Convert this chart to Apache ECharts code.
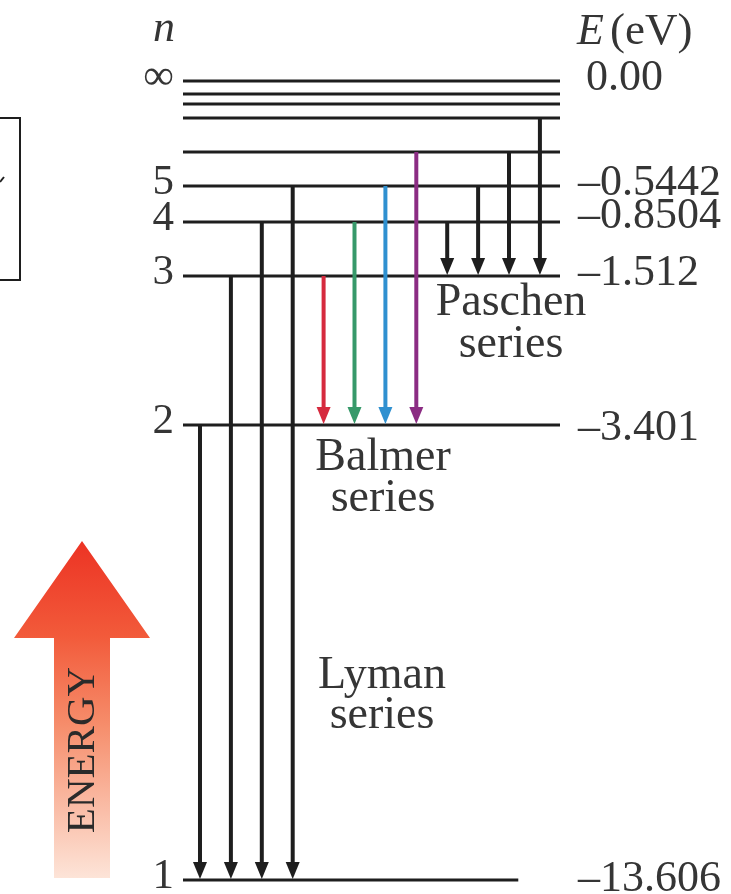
<!DOCTYPE html>
<html>
<head>
<meta charset="utf-8">
<script src="https://cdn.jsdelivr.net/npm/echarts@6/dist/echarts.min.js"></script>
<style>
  html, body { margin: 0; padding: 0; background: #fff; }
  #chart { width: 731px; height: 894px; }
</style>
</head>
<body>
<div id="chart"></div>
<script>
// energy levels n = 1 .. 9 and infinity
const levelTags = ['1', '2', '3', '4', '5', '', '', '', '', '∞'];
const levelEnergy = ['–13.606', '–3.401', '–1.512', '–0.8504', '–0.5442', '', '', '', '', '0.00'];
// drawn height of each level above n = 1 (the diagram is not to scale)
const levelHeight = [0, 455, 604, 658, 694, 728, 762, 776, 786, 799];

// transitions: upper level n for each arrow, lower level is fixed per series
const lymanFrom = [2, 3, 4, 5];
const balmerFrom = [3, 4, 5, 6];
const paschenFrom = [4, 5, 6, 7];
const seriesTo = [1, 2, 3];
const seriesLabels = ['Lyman\nseries', 'Balmer\nseries', 'Paschen\nseries'];
const balmerColors = ['#d62a3e', '#37996a', '#2f90d0', '#8b2c83'];

const SERIF = '"Liberation Serif", "DejaVu Serif", serif';
const TEXT = '#353535';
const INK = '#1e1e1e';

// one slot on the x axis per arrow, in order Lyman, Balmer, Paschen
const arrowData = [];
[lymanFrom, balmerFrom, paschenFrom].forEach((from, s) => {
  from.forEach((n, k) => {
    const item = { value: [arrowData.length, levelHeight[n - 1], levelHeight[seriesTo[s] - 1]] };
    item.itemStyle = { color: s === 1 ? balmerColors[k] : INK };
    arrowData.push(item);
  });
});

function renderLevel(params, api) {
  const i = api.value(0);
  const h = api.value(1);
  const p0 = api.coord([-0.55, h]);
  const p1 = api.coord([i === 0 ? 10.3 : 11.65, h]);
  const children = [{
    type: 'line',
    shape: { x1: p0[0], y1: p0[1], x2: p1[0], y2: p1[1] },
    style: { stroke: INK, lineWidth: 3 }
  }];
  if (levelTags[i]) {
    children.push({
      type: 'text',
      style: {
        text: levelTags[i], x: p0[0] - 9, y: p0[1] - 3,
        align: 'right', verticalAlign: 'middle',
        font: '43px ' + SERIF, fill: TEXT
      }
    });
  }
  if (levelEnergy[i]) {
    const dash = levelEnergy[i].charAt(0) === '–';
    let dy = -3;
    if (i === 3) dy = -6;
    if (i === 1) dy = 3;
    if (i === 0) dy = -1;
    children.push({
      type: 'text',
      style: {
        text: levelEnergy[i], x: 578 + (dash ? 0 : 8), y: p1[1] + dy,
        align: 'left', verticalAlign: 'middle',
        font: '44px ' + SERIF, fill: TEXT
      }
    });
  }
  return { type: 'group', children };
}

function renderArrow(params, api) {
  const slot = api.value(0);
  const top = api.coord([slot, api.value(1)]);
  const bot = api.coord([slot, api.value(2)]);
  const color = api.visual('color');
  const headH = 18;
  const headW = 7;
  return {
    type: 'group',
    children: [{
      type: 'line',
      shape: { x1: top[0], y1: top[1], x2: bot[0], y2: bot[1] - headH + 2 },
      style: { stroke: color, lineWidth: 4 }
    }, {
      type: 'polygon',
      shape: { points: [[bot[0] - headW, bot[1] - headH], [bot[0] + headW, bot[1] - headH], [bot[0], bot[1] - 1]] },
      style: { fill: color }
    }]
  };
}

const chart = echarts.init(document.getElementById('chart'));
chart.setOption({
  animation: false,
  backgroundColor: '#fff',
  grid: { left: 183, right: 171, top: 81, bottom: 14 },
  xAxis: { type: 'value', min: -0.55, max: 11.65, show: false },
  yAxis: { type: 'value', min: 0, max: 799, show: false },
  series: [{
    type: 'custom',
    name: 'levels',
    clip: false,
    renderItem: renderLevel,
    data: levelHeight.map((h, i) => [i, h])
  }, {
    type: 'custom',
    name: 'transitions',
    clip: false,
    renderItem: renderArrow,
    data: arrowData
  }],
  graphic: [
    // piece of the neighbouring figure cut off at the left edge
    { type: 'rect', shape: { x: -10, y: 118, width: 30, height: 162 }, style: { fill: 'none', stroke: INK, lineWidth: 2 } },
    { type: 'line', shape: { x1: 0, y1: 182, x2: 4, y2: 177 }, style: { stroke: INK, lineWidth: 2 } },
    // column headings
    { type: 'text', style: { text: 'n', x: 175, y: 29, align: 'right', verticalAlign: 'middle', font: 'italic 44px ' + SERIF, fill: TEXT } },
    { type: 'text', style: { text: 'E', x: 577, y: 32, align: 'left', verticalAlign: 'middle', font: 'italic 44px ' + SERIF, fill: TEXT } },
    { type: 'text', style: { text: '(eV)', x: 610, y: 32, align: 'left', verticalAlign: 'middle', font: '45px ' + SERIF, fill: TEXT } },
    // series names
    { type: 'text', style: { text: seriesLabels[2], x: 511, y: 324, align: 'center', verticalAlign: 'middle', lineHeight: 42, font: '46px ' + SERIF, fill: TEXT } },
    { type: 'text', style: { text: seriesLabels[1], x: 383, y: 478, align: 'center', verticalAlign: 'middle', lineHeight: 41, font: '46px ' + SERIF, fill: TEXT } },
    { type: 'text', style: { text: seriesLabels[0], x: 382, y: 696, align: 'center', verticalAlign: 'middle', lineHeight: 40, font: '46px ' + SERIF, fill: TEXT } },
    // energy arrow
    {
      type: 'polygon',
      shape: { points: [[82, 541], [150, 638], [110, 638], [110, 878], [54, 878], [54, 638], [14, 638]] },
      style: {
        fill: new echarts.graphic.LinearGradient(0, 0, 0, 1, [
          { offset: 0, color: '#ec3324' },
          { offset: 0.28, color: '#f25a3a' },
          { offset: 0.55, color: '#f68e6c' },
          { offset: 1, color: '#fde4d8' }
        ])
      }
    },
    { type: 'text', rotation: Math.PI / 2, x: 83, y: 750, style: { text: 'ENERGY', x: 0, y: 0, align: 'center', verticalAlign: 'middle', font: '41px ' + SERIF, fill: '#2a2a2a' } }
  ]
});
</script>
</body>
</html>
